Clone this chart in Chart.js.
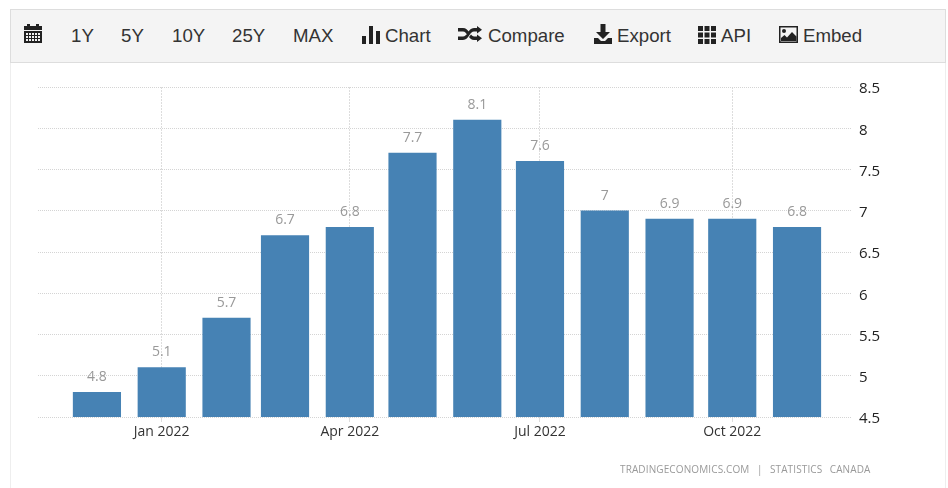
<!DOCTYPE html>
<html>
<head>
<meta charset="utf-8">
<script src="https://cdn.jsdelivr.net/npm/chart.js@4"></script>
<style>
  html, body { margin: 0; padding: 0; background: #fff; }
  #page { position: relative; width: 948px; height: 488px; overflow: hidden; }
  #frame { position: absolute; left: 10px; top: 62px; width: 934px; height: 440px; border-left: 1px solid #eee; border-right: 1px solid #eee; }
  #bar { position: absolute; left: 10px; top: 9px; width: 934px; height: 52px; background: #f4f4f4; border: 1px solid #ddd; }
  #page canvas { position: absolute; left: 0; top: 0; }
  .item { position: absolute; top: 24px; font: 18.67px/24px "Liberation Sans", Arial, sans-serif; color: #333; white-space: nowrap; }
  .icon { position: absolute; fill: #222; }
  #source { position: absolute; left: 620px; top: 463px; font: 10px/12px "Open Sans", sans-serif; letter-spacing: 0.12px; word-spacing: 1px; color: #999; white-space: pre; }
</style>
</head>
<body>
<div id="page">
  <div id="frame"></div>
  <div id="bar"></div>

  <svg class="icon" style="left:24px;top:24px" width="18" height="20" viewBox="0 0 18 20">
    <path d="M3 0h3v3H3zM12 0h3v3h-3zM0 2h18v4H0z"/>
    <path fill-rule="evenodd" d="M0 7h18v12H0zM2 9v2h2V9zm3 0v2h2V9zm3 0v2h2V9zm3 0v2h2V9zm3 0v2h2V9zM2 12v2h2v-2zm3 0v2h2v-2zm3 0v2h2v-2zm3 0v2h2v-2zm3 0v2h2v-2zM2 15v2h2v-2zm3 0v2h2v-2zm3 0v2h2v-2zm3 0v2h2v-2zm3 0v2h2v-2z"/>
  </svg>
  <span class="item" style="left:71px">1Y</span>
  <span class="item" style="left:121px">5Y</span>
  <span class="item" style="left:172px">10Y</span>
  <span class="item" style="left:232px">25Y</span>
  <span class="item" style="left:293px">MAX</span>

  <svg class="icon" style="left:362px;top:26px" width="18" height="18" viewBox="0 0 18 18">
    <path d="M0 10h4v8H0zM7 0h4v18H7zM14 5h4v13h-4z"/>
  </svg>
  <span class="item" style="left:385px">Chart</span>

  <svg class="icon" style="left:458px;top:26px" width="24" height="16" viewBox="0 0 24 16">
    <path d="M0 2h5c3 0 4.500 2 6 4l-2 2.500C8 7 7 5.500 5 5.500H0zM0 10.500h5c2 0 3-1.500 4.500-3.500 1.500-2.500 3.500-5 6.500-5h3V0l5 3.700-5 3.800V5.500h-3c-2 0-3 1.500-4.500 3.500-1.500 2.500-3.500 5-6.500 5H0z"/>
    <path d="M13 8.500c1 1.200 2 2 3 2h3V8.500l5 3.700-5 3.800V14h-3c-2.500 0-4-1.500-5-3z"/>
  </svg>
  <span class="item" style="left:488px">Compare</span>

  <svg class="icon" style="left:594px;top:24px" width="18" height="20" viewBox="0 0 18 20">
    <path d="M6.500 0h5v8H16l-7 7-7-7h4.500zM0 14h4l3 3h4l3-3h4v6H0z"/>
  </svg>
  <span class="item" style="left:617px">Export</span>

  <svg class="icon" style="left:698px;top:26px" width="18" height="18" viewBox="0 0 18 18">
    <path d="M0 0h5v5H0zM6.500 0h5v5h-5zM13 0h5v5h-5zM0 6.500h5v5H0zM6.500 6.500h5v5h-5zM13 6.500h5v5h-5zM0 13h5v5H0zM6.500 13h5v5h-5zM13 13h5v5h-5z"/>
  </svg>
  <span class="item" style="left:721px">API</span>

  <svg class="icon" style="left:779px;top:26px" width="19" height="17" viewBox="0 0 19 17">
    <path fill-rule="evenodd" d="M0 0h19v17H0zM1.500 1.500v14h16v-14z"/>
    <circle cx="5" cy="5" r="2"/>
    <path d="M2 15v-3l3.500-3 2.500 2.500L13 6l4.500 4.500V15z"/>
  </svg>
  <span class="item" style="left:803px">Embed</span>

  <canvas id="chart" width="948" height="488"></canvas>
  <div id="source">TRADINGECONOMICS.COM  |  STATISTICS  CANADA</div>
</div>

<script>
const months = ['2021-12-01', '2022-01-01', '2022-02-01', '2022-03-01', '2022-04-01', '2022-05-01',
                '2022-06-01', '2022-07-01', '2022-08-01', '2022-09-01', '2022-10-01', '2022-11-01'];
const inflation = [4.8, 5.1, 5.7, 6.7, 6.8, 7.7, 8.1, 7.6, 7, 6.9, 6.9, 6.8];
const xTickDates = ['2022-01-01', '2022-04-01', '2022-07-01', '2022-10-01'];
const xTickLabels = ['Jan 2022', 'Apr 2022', 'Jul 2022', 'Oct 2022'];
const yTicks = [4.5, 5, 5.5, 6, 6.5, 7, 7.5, 8, 8.5];

const tickTimes = xTickDates.map(d => Date.parse(d));
const DAY = 86400000;

// draws the value above each bar
const valueLabels = {
  id: 'valueLabels',
  afterDatasetsDraw(chart) {
    const ctx = chart.ctx;
    ctx.save();
    ctx.font = '14px "Open Sans", sans-serif';
    ctx.fillStyle = '#999';
    ctx.textAlign = 'center';
    ctx.textBaseline = 'bottom';
    chart.getDatasetMeta(0).data.forEach((bar, i) => {
      ctx.fillText(String(inflation[i]), bar.x, bar.y - 8);
    });
    ctx.restore();
  }
};

new Chart(document.getElementById('chart').getContext('2d'), {
  type: 'bar',
  data: {
    datasets: [{
      data: months.map((m, i) => ({ x: Date.parse(m), y: inflation[i] })),
      backgroundColor: '#4682b4',
      barThickness: 47.5,
      borderWidth: 0
    }]
  },
  options: {
    responsive: false,
    animation: false,
    events: [],
    layout: { padding: { left: 38, top: 87, right: 0, bottom: 0 } },
    plugins: { legend: { display: false }, tooltip: { enabled: false } },
    scales: {
      x: {
        type: 'linear',
        offset: false,
        min: Date.parse('2022-01-01') - 59.2 * DAY,
        max: Date.parse('2022-01-01') + 330.3 * DAY,
        afterBuildTicks(scale) { scale.ticks = tickTimes.map(value => ({ value })); },
        afterFit(scale) { scale.height = 71; },
        grid: { offset: false, color: '#ddd', tickLength: 5, drawOnChartArea: true },
        border: { display: false, dash: [2, 1] },
        ticks: {
          autoSkip: false,
          maxRotation: 0,
          padding: 2,
          color: '#333',
          font: { family: '"Open Sans", sans-serif', size: 14 },
          callback: value => xTickLabels[tickTimes.indexOf(value)]
        }
      },
      y: {
        position: 'right',
        min: 4.5,
        max: 8.5,
        afterBuildTicks(scale) { scale.ticks = yTicks.map(value => ({ value })); },
        afterFit(scale) { scale.width = 96; },
        grid: { color: '#d4d4d4', tickLength: 0 },
        border: { display: false, dash: [1, 1] },
        ticks: {
          padding: 7,
          labelOffset: 2,
          color: '#222',
          font: { family: '"Open Sans", sans-serif', size: 15 },
          callback: value => String(value)
        }
      }
    }
  },
  plugins: [valueLabels]
});
</script>
</body>
</html>
